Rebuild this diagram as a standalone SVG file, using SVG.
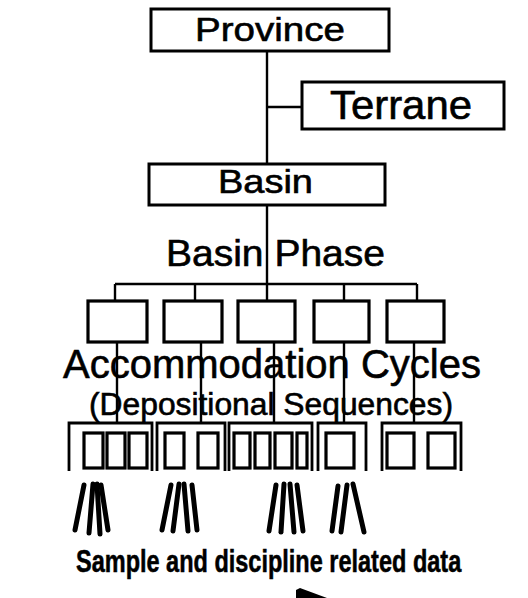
<svg xmlns="http://www.w3.org/2000/svg" width="528" height="598" viewBox="0 0 528 598">
<style>
  .box { fill: #fff; stroke: #000; stroke-width: 3; }
  .sbox { fill: #fff; stroke: #000; stroke-width: 3.2; }
  .ln { stroke: #000; stroke-width: 2.4; fill: none; }
  .br { stroke: #000; stroke-width: 2.8; fill: none; }
  .hatch { stroke: #000; stroke-width: 5; stroke-linecap: round; fill: none; }
  .t { font-family: "Liberation Sans", Arial, Helvetica, sans-serif; fill: #000; stroke: #000; stroke-width: 0.6; }
  .b { font-weight: bold; stroke-width: 0.4; }
</style>
<rect width="528" height="598" fill="#fff"/>

<g id="connectors">
  <line class="ln" x1="267" y1="51" x2="267" y2="164"/>
  <line class="ln" x1="267" y1="107" x2="302" y2="107"/>
  <line class="ln" x1="267" y1="205" x2="267" y2="284"/>
  <line class="ln" x1="115" y1="284" x2="417" y2="284"/>
  <line class="ln" x1="115" y1="284" x2="115" y2="301"/>
  <line class="ln" x1="195" y1="284" x2="195" y2="301"/>
  <line class="ln" x1="267" y1="284" x2="267" y2="301"/>
  <line class="ln" x1="344" y1="284" x2="344" y2="301"/>
  <line class="ln" x1="417" y1="284" x2="417" y2="301"/>
  <line class="ln" x1="117" y1="342" x2="117" y2="423"/>
  <line class="ln" x1="201" y1="342" x2="201" y2="423"/>
  <line class="ln" x1="274" y1="342" x2="274" y2="423"/>
  <line class="ln" x1="344" y1="342" x2="344" y2="423"/>
  <line class="ln" x1="414" y1="342" x2="414" y2="423"/>
</g>

<g id="province">
  <rect class="box" x="151" y="9" width="238" height="42"/>
  <text class="t" x="195" y="41" font-size="34" textLength="150" lengthAdjust="spacingAndGlyphs">Province</text>
</g>

<g id="terrane">
  <rect class="box" x="302" y="82" width="202" height="47"/>
  <text class="t" x="330" y="119" font-size="41" textLength="142" lengthAdjust="spacingAndGlyphs">Terrane</text>
</g>

<g id="basin">
  <rect class="box" x="149" y="164" width="236" height="41"/>
  <text class="t" x="218" y="193" font-size="33" textLength="95" lengthAdjust="spacingAndGlyphs">Basin</text>
</g>

<g id="basin-phase">
  <text class="t" x="166" y="266" font-size="37" textLength="219" lengthAdjust="spacingAndGlyphs">Basin Phase</text>
</g>

<g id="cycle-boxes">
  <rect class="sbox" x="88" y="301" width="59" height="41"/>
  <rect class="sbox" x="164" y="301" width="58" height="41"/>
  <rect class="sbox" x="238" y="301" width="57" height="41"/>
  <rect class="sbox" x="314" y="301" width="55" height="41"/>
  <rect class="sbox" x="387" y="301" width="57" height="41"/>
</g>

<g id="accommodation-label">
  <text class="t" x="63" y="378" font-size="41" textLength="418" lengthAdjust="spacingAndGlyphs">Accommodation Cycles</text>
  <text class="t" x="89" y="415" font-size="31" textLength="364" lengthAdjust="spacingAndGlyphs">(Depositional Sequences)</text>
</g>

<g id="sequence-1">
  <polyline class="br" points="69,471 69,423 152,423 152,471"/>
  <rect class="sbox" x="84" y="433" width="19" height="35"/>
  <rect class="sbox" x="107" y="433" width="18" height="35"/>
  <rect class="sbox" x="129" y="433" width="18" height="35"/>
</g>
<g id="sequence-2">
  <polyline class="br" points="157,471 157,423 225,423 225,471"/>
  <rect class="sbox" x="165" y="433" width="19" height="35"/>
  <rect class="sbox" x="198" y="433" width="20" height="35"/>
</g>
<g id="sequence-3">
  <polyline class="br" points="229,471 229,423 312,423 312,471"/>
  <rect class="sbox" x="234" y="433" width="16" height="35"/>
  <rect class="sbox" x="255" y="433" width="15" height="35"/>
  <rect class="sbox" x="275" y="433" width="17" height="35"/>
  <rect class="sbox" x="297" y="433" width="10" height="35"/>
</g>
<g id="sequence-4">
  <polyline class="br" points="318,471 318,423 366,423 366,471"/>
  <rect class="sbox" x="326" y="433" width="28" height="35"/>
</g>
<g id="sequence-5">
  <polyline class="br" points="382,471 382,423 461,423 461,471"/>
  <rect class="sbox" x="387" y="433" width="27" height="35"/>
  <rect class="sbox" x="428" y="433" width="27" height="35"/>
</g>

<g id="data-lines">
  <line class="hatch" x1="84" y1="485" x2="75" y2="530"/>
  <line class="hatch" x1="93" y1="484" x2="89" y2="533"/>
  <line class="hatch" x1="97" y1="484" x2="100" y2="534"/>
  <line class="hatch" x1="101" y1="485" x2="108" y2="530"/>

  <line class="hatch" x1="171" y1="485" x2="162" y2="530"/>
  <line class="hatch" x1="179" y1="484" x2="173" y2="531"/>
  <line class="hatch" x1="184" y1="484" x2="188" y2="531"/>
  <line class="hatch" x1="192" y1="485" x2="197" y2="530"/>

  <line class="hatch" x1="276" y1="485" x2="269" y2="531"/>
  <line class="hatch" x1="284" y1="484" x2="281" y2="532"/>
  <line class="hatch" x1="290" y1="484" x2="294" y2="532"/>
  <line class="hatch" x1="297" y1="485" x2="303" y2="531"/>

  <line class="hatch" x1="338" y1="486" x2="332" y2="531"/>
  <line class="hatch" x1="347" y1="485" x2="341" y2="532"/>
  <line class="hatch" x1="353" y1="484" x2="364" y2="532"/>
</g>

<g id="data-label">
  <text class="t b" transform="translate(76,572) scale(1,1.3)" x="0" y="0" font-size="23.5">Sample and discipline related data</text>
  <polygon points="296,590 300,588 327,598 296,598" fill="#000"/>
</g>
</svg>
